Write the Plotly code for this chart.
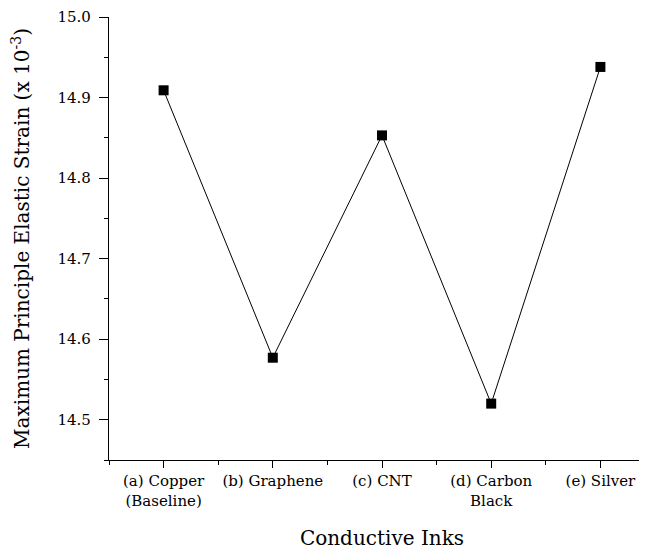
import plotly.graph_objects as go

categories = ["(a) Copper<br>(Baseline)", "(b) Graphene", "(c) CNT", "(d) Carbon<br>Black", "(e) Silver"]
strain = [14.909, 14.577, 14.853, 14.520, 14.938]
x_idx = list(range(len(categories)))
y_ticks = [14.5, 14.6, 14.7, 14.8, 14.9, 15.0]
y_minor = [14.45, 14.55, 14.65, 14.75, 14.85, 14.95]
x_minor = [-0.5, 0.5, 1.5, 2.5, 3.5, 4.5]

fig = go.Figure()
fig.add_trace(go.Scatter(
    x=x_idx, y=strain, mode="lines+markers",
    line=dict(color="black", width=1),
    marker=dict(symbol="square", size=10, color="black"),
    showlegend=False, cliponaxis=False,
))

font_family = "DejaVu Serif"
fig.update_layout(
    width=647, height=553,
    margin=dict(l=101, r=0, t=9, b=101),
    plot_bgcolor="white", paper_bgcolor="white",
    font=dict(family=font_family, size=15, color="black"),
    xaxis=dict(
        range=[-0.5, 4.5], automargin=False,
        tickmode="array", tickvals=x_idx, ticktext=categories,
        ticks="outside", ticklen=7, tickwidth=1.2, tickcolor="black",
        minor=dict(tickmode="array", tickvals=x_minor,
                   ticks="outside", ticklen=4, tickwidth=1.2, tickcolor="black"),
        showline=True, linecolor="black", linewidth=1.2,
        showgrid=False, zeroline=False,
        title=dict(text="Conductive Inks", font=dict(size=20), standoff=22),
        tickfont=dict(size=15),
    ),
    yaxis=dict(
        range=[14.45, 15.0], automargin=False,
        tickmode="array", tickvals=y_ticks,
        tickformat=".1f",
        ticks="outside", ticklen=9, tickwidth=1.2, tickcolor="black",
        ticklabelstandoff=5,
        minor=dict(tickmode="array", tickvals=y_minor,
                   ticks="outside", ticklen=4, tickwidth=1.2, tickcolor="black"),
        showline=True, linecolor="black", linewidth=1.2,
        showgrid=False, zeroline=False,
        title=dict(text="Maximum Principle Elastic Strain (x 10<sup>-3</sup>)", font=dict(size=20), standoff=23),
        tickfont=dict(size=15),
    ),
)

fig.write_html("out.html")
